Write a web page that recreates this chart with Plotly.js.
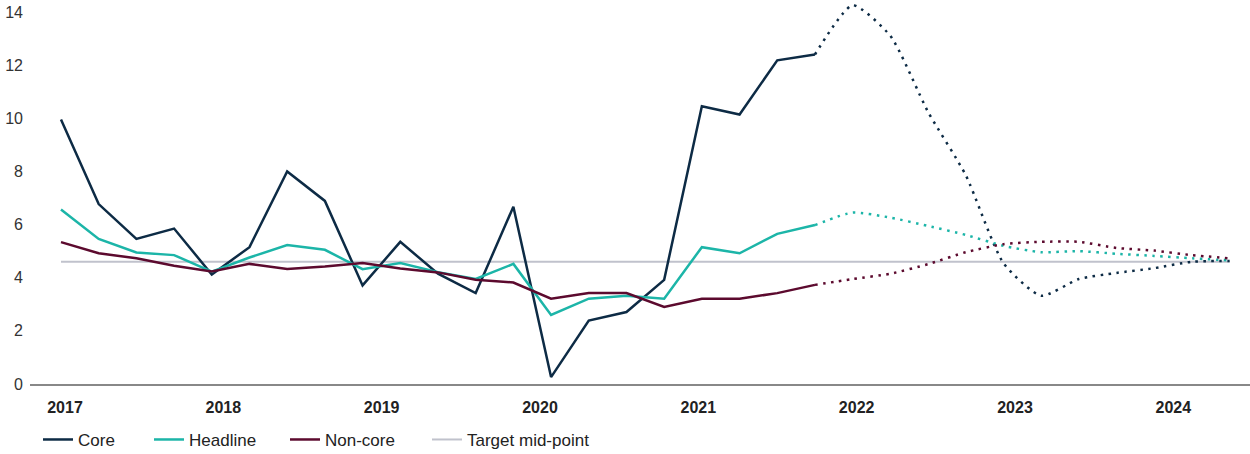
<!DOCTYPE html>
<html>
<head>
<meta charset="utf-8">
<script src="https://cdn.plot.ly/plotly-3.0.1.min.js"></script>
<style>html,body{margin:0;padding:0;background:#fff;}#chart{width:1250px;height:454px;}</style>
</head>
<body>
<div id="chart"></div>
<script>
// Quarterly observations, 2017 Q1 .. 2024 Q4 (index 0..31); actuals to index 20, forecast after
const quarters = Array.from({length: 32}, (_, i) => i);
const years = ['2017','2018','2019','2020','2021','2022','2023','2024'];

const coreActual = [9.95, 6.77, 5.46, 5.85, 4.12, 5.15, 8.0, 6.89, 3.71, 5.35,
                    4.15, 3.42, 6.67, 0.26, 2.39, 2.71, 3.92, 10.45, 10.14, 12.18, 12.4];
const headlineActual = [6.57, 5.46, 4.95, 4.85, 4.23, 4.76, 5.23, 5.05, 4.32, 4.55,
                        4.21, 3.95, 4.52, 2.6, 3.21, 3.32, 3.21, 5.15, 4.92, 5.65, 5.98];
const noncoreActual = [5.34, 4.92, 4.73, 4.45, 4.23, 4.52, 4.33, 4.42, 4.55, 4.35,
                       4.2, 3.92, 3.82, 3.21, 3.42, 3.42, 2.9, 3.21, 3.21, 3.42, 3.73];
// forecasts start at the last actual (index 20)
const coreForecast = [12.4, 14.25, 13.1, 10.24, 7.86, 4.55, 3.32, 3.95, 4.18, 4.36, 4.6, 4.63];
const headlineForecast = [5.98, 6.45, 6.26, 5.95, 5.61, 5.2, 4.96, 5.0, 4.9, 4.82, 4.73, 4.65];
const noncoreForecast = [3.73, 3.95, 4.15, 4.51, 4.96, 5.26, 5.35, 5.35, 5.12, 5.02, 4.85, 4.73];
const targetMid = 4.6;

const colors = {core: '#0d2b45', headline: '#1cb5a8', noncore: '#5c0a2e', target: '#c0c2cc'};

const actX = quarters.slice(0, coreActual.length);
const fcX = quarters.slice(coreActual.length - 1);
const dotDash = '2.5px,5.5px';

const traces = [
  {x: quarters, y: quarters.map(() => targetMid), name: 'Target mid-point', legend: 'legend4', mode: 'lines', line: {color: colors.target, width: 2}},
  {x: actX, y: coreActual, name: 'Core', legend: 'legend', mode: 'lines', line: {color: colors.core, width: 2.5}},
  {x: actX, y: headlineActual, name: 'Headline', legend: 'legend2', mode: 'lines', line: {color: colors.headline, width: 2.5}},
  {x: actX, y: noncoreActual, name: 'Non-core', legend: 'legend3', mode: 'lines', line: {color: colors.noncore, width: 2.5}},
  {x: fcX, y: coreForecast, name: 'Core forecast', showlegend: false, mode: 'lines', line: {color: colors.core, width: 2.5, dash: dotDash, shape: 'spline', smoothing: 0.6}},
  {x: fcX, y: headlineForecast, name: 'Headline forecast', showlegend: false, mode: 'lines', line: {color: colors.headline, width: 2.5, dash: dotDash, shape: 'spline', smoothing: 0.6}},
  {x: fcX, y: noncoreForecast, name: 'Non-core forecast', showlegend: false, mode: 'lines', line: {color: colors.noncore, width: 2.5, dash: dotDash, shape: 'spline', smoothing: 0.6}}
];

function legendAt(xFrac) {
  return {orientation: 'h', xref: 'container', x: xFrac, xanchor: 'left',
          yref: 'container', y: 0.031, yanchor: 'middle',
          font: {size: 17, color: '#222'}, bgcolor: 'rgba(0,0,0,0)'};
}

const layout = {
  width: 1250, height: 454,
  margin: {l: 30, r: 0, t: 4, b: 70, autoexpand: false},
  paper_bgcolor: '#fff', plot_bgcolor: '#fff',
  font: {family: 'Liberation Sans, Arial, sans-serif', size: 16, color: '#333'},
  showlegend: true,
  legend: legendAt(0.0304),
  legend2: legendAt(0.1192),
  legend3: legendAt(0.228),
  legend4: legendAt(0.3416),
  xaxis: {
    range: [-0.822, 31.54], showgrid: false, zeroline: false,
    showline: true, linecolor: '#888', linewidth: 1.5,
    tickmode: 'array', tickvals: years.map((y, k) => 0.106 + 4.2 * k), ticktext: years,
    ticks: '', ticklabelstandoff: 8,
    tickfont: {family: 'Liberation Sans, Arial, sans-serif', size: 16, color: '#222', weight: 'bold'},
    fixedrange: true
  },
  yaxis: {
    range: [0, 14.3], showgrid: false, zeroline: false, showline: false,
    tickmode: 'array', tickvals: [0, 2, 4, 6, 8, 10, 12, 14],
    ticks: '', ticklabelstandoff: 6,
    tickfont: {size: 16, color: '#333'}, fixedrange: true
  }
};

Plotly.newPlot('chart', traces, layout, {displayModeBar: false, staticPlot: true});
</script>
</body>
</html>
